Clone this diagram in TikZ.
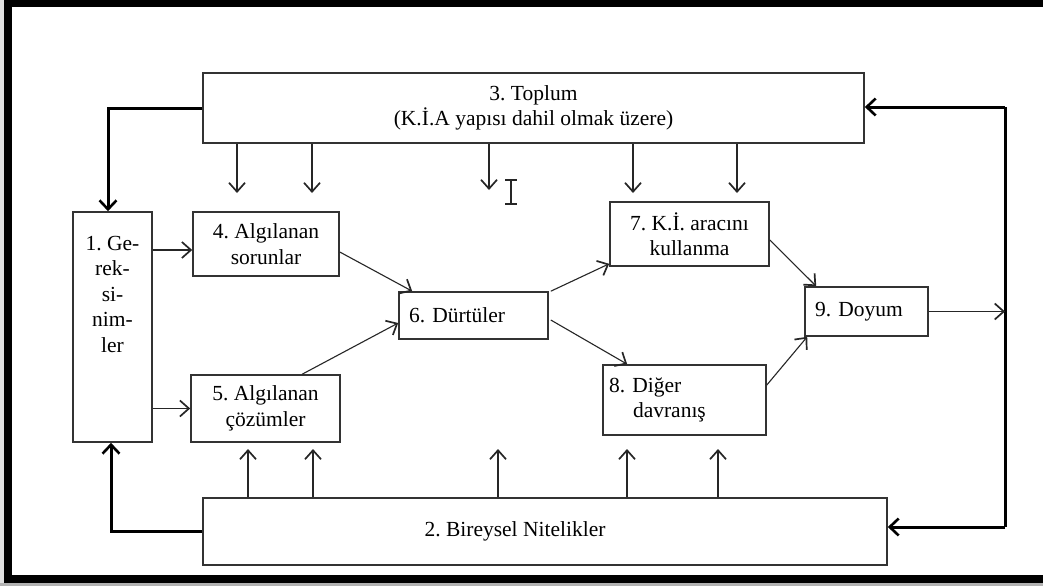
\documentclass[tikz,border=0pt]{standalone}
\usepackage{fontspec}
\setmainfont{Liberation Serif}
\usetikzlibrary{arrows.meta,calc}
\newcommand\diafont{\fontsize{21.5}{25.5}\selectfont\frenchspacing}
\tikzset{
  box/.style={draw=black!80, line width=1.6pt, rectangle, inner sep=0pt, align=center, font=\diafont},
  arr/.style={draw=black!85, line width=1.1pt, -{Straight Barb[length=9pt,width=16pt,line width=1.7pt]}},
  thickarr/.style={draw=black, line width=3pt, -{Straight Barb[length=9pt,width=17pt,line width=2.6pt]}},
  thickline/.style={draw=black, line width=3pt},
}
\begin{document}
\begin{tikzpicture}[x=1pt,y=-1pt]
\useasboundingbox (0,0) rectangle (1043,586);
\fill[white] (0,0) rectangle (1043,586);
% frame
\fill[gray!25] (0,0) rectangle (4,586);
\fill[gray!60] (0,583) rectangle (1043,586);
\fill[black] (4,0) rectangle (1043,7);
\fill[black] (4,0) rectangle (12,583);
\fill[black] (4,575) rectangle (1043,583);

% boxes
\node[box, minimum width=661pt, minimum height=70pt] (top) at (533.5,108) {3. Toplum\\(K.İ.A yapısı dahil olmak üzere)};
\node[box, minimum width=684pt, minimum height=67pt] (bot) at (545,531.5) {2. Bireysel Nitelikler\hspace{60pt}};
\node[box, minimum width=79pt, minimum height=230pt] (ger) at (112.5,327) {1. Ge-\\rek-\\si-\\nim-\\ler\\[40pt]\mbox{}};
\node[box, minimum width=146pt, minimum height=64pt] (al4) at (266,244) {4. Algılanan\\sorunlar};
\node[box, minimum width=149pt, minimum height=67pt] (al5) at (265.5,408.5) {5. Algılanan\\çözümler};
\node[box, text width=129pt, inner xsep=10pt, minimum height=47pt, align=left] (dur) at (473.5,315.5) {6. Dürtüler};
\node[box, minimum width=159pt, minimum height=64pt] (kia) at (689.5,234) {7. K.İ. aracını\\kullanma};
\node[box, text width=151pt, inner xsep=6pt, minimum height=70pt, align=left] (dig) at (684.5,400) {8. Diğer\\\hspace*{24pt}davranış};
\node[box, text width=103pt, inner xsep=10pt, minimum height=49pt, align=left] (doy) at (866.5,311.5) {9. Doyum};

% thick feedback paths
\draw[thickarr] (top.west) -| ([xshift=-4.5pt]ger.north);
\draw[thickarr] (bot.west) -| ([xshift=-1.5pt]ger.south);
\coordinate (ctop) at (1005,107);
\coordinate (cbot) at (1005,527);
\coordinate (j) at (1005,311.5);
\draw[thickline] (ctop) -- (cbot);
\draw[thickarr] (ctop) -- (ctop -| top.east);
\draw[thickarr] (cbot) -- (cbot -| bot.east);
\draw[arr] (doy.east) -- (j);

% down arrows from Toplum
\coordinate (d1) at (237,193);
\coordinate (d2) at (312,193);
\coordinate (d3) at (489,190);
\coordinate (d4) at (633,193);
\coordinate (d5) at (737,193);
\foreach \d in {d1,d2,d3,d4,d5} \draw[arr] (\d |- top.south) -- (\d);

% up arrows from Bireysel Nitelikler
\coordinate (u1) at (248,449);
\coordinate (u2) at (313,449);
\coordinate (u3) at (498,449);
\coordinate (u4) at (627,449);
\coordinate (u5) at (718,449);
\foreach \u in {u1,u2,u3,u4,u5} \draw[arr] (\u |- bot.north) -- (\u);

% text cursor
\draw[black!85, line width=1.2pt] (505,180) -- (517,180) (511,180) -- (511,204) (505,204) -- (517,204);

% inner arrows
\coordinate (a4) at ($(al4.west)+(0,6)$);
\draw[arr] (ger.east |- a4) -- (a4);
\draw[arr] (ger.east |- al5.west) -- (al5.west);
\draw[arr] ($(al4.east)+(0,8)$) -- ($(dur.north west)+(14,0)$);
\draw[arr] ($(al5.north west)+(112,0)$) -- ($(dur.west)+(0,7.5)$);
\draw[arr] ($(dur.north east)+(2,0)$) -- ($(kia.south west)+(0,-3)$);
\draw[arr] ($(dur.east)+(2,4.5)$) -- ($(dig.north west)+(25,0)$);
\draw[arr] ($(kia.east)+(0,6)$) -- ($(doy.north west)+(12,0)$);
\draw[arr] ($(dig.east)+(0,-15)$) -- ($(doy.south west)+(3,0)$);
\end{tikzpicture}
\end{document}
